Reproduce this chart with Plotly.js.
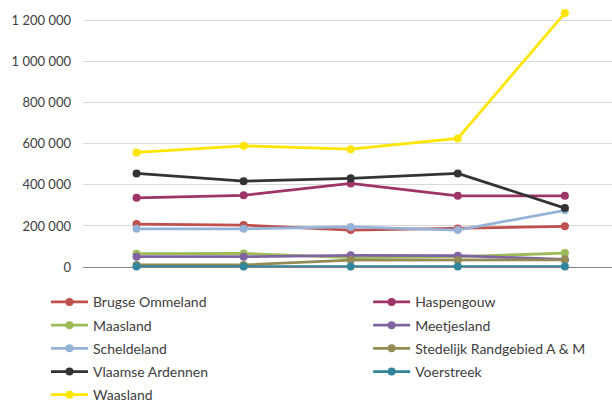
<!DOCTYPE html>
<html>
<head>
<meta charset="utf-8">
<script src="https://cdn.plot.ly/plotly-3.0.1.min.js"></script>
<style>html,body{margin:0;padding:0;background:#fff}#chart{width:612px;height:401px}</style>
</head>
<body>
<div id="chart"></div>
<script>
const periods = [1, 2, 3, 4, 5];
const seriesNames = ["Brugse Ommeland", "Haspengouw", "Maasland", "Meetjesland", "Scheldeland",
  "Stedelijk Randgebied A & M", "Vlaamse Ardennen", "Voerstreek", "Waasland"];
const brugseOmmeland = [209000, 204000, 180000, 188000, 198000];
const haspengouw = [337000, 349000, 407000, 347000, 347000];
const maasland = [65000, 66000, 46000, 50000, 68000];
const meetjesland = [50000, 50000, 57000, 55000, 37000];
const scheldeland = [186000, 186000, 195000, 180000, 276000];
const stedelijkRandgebied = [10000, 10000, 34000, 33000, 35000];
const vlaamseArdennen = [456000, 418000, 432000, 456000, 287000];
const voerstreek = [2000, 2000, 2000, 2000, 2000];
const waasland = [558000, 590000, 574000, 626000, 1237000];
const seriesValues = [brugseOmmeland, haspengouw, maasland, meetjesland, scheldeland,
  stedelijkRandgebied, vlaamseArdennen, voerstreek, waasland];
const colors = ["#C0504D", "#9E3468", "#9BBB59", "#8064A2", "#95B3D7",
  "#948A54", "#333333", "#31859C", "#FFE600"];

const FONT = "Lato, 'Liberation Sans', sans-serif";
const traces = seriesNames.map((name, i) => ({
  type: "scatter",
  mode: "lines+markers",
  name: name,
  x: periods,
  y: seriesValues[i],
  line: {color: colors[i], width: 2.75},
  marker: {color: colors[i], size: 8},
  cliponaxis: false,
  legend: (i % 2 === 0) ? "legend" : "legend2",
  legendgroup: "g" + i,
  hoverinfo: "name+y"
}));

const legendCommon = {
  orientation: "v",
  font: {family: FONT, size: 14, color: "#404040"},
  bgcolor: "rgba(0,0,0,0)",
  borderwidth: 0,
  tracegroupgap: 2,
  itemwidth: 37,
  yanchor: "top",
  xanchor: "left",
  y: -0.0735
};

const layout = {
  width: 612,
  height: 401,
  margin: {l: 83, r: 0, t: 4, b: 134, autoexpand: false},
  paper_bgcolor: "#ffffff",
  plot_bgcolor: "#ffffff",
  separators: ", ",
  showlegend: true,
  font: {family: FONT, color: "#404040"},
  xaxis: {
    range: [0.5, 5.44],
    showgrid: false,
    zeroline: false,
    showline: false,
    showticklabels: false,
    ticks: "",
    fixedrange: true
  },
  yaxis: {
    range: [0, 1281000],
    tickvals: [0, 200000, 400000, 600000, 800000, 1000000, 1200000],
    tickformat: ",d",
    showgrid: true,
    gridcolor: "#D9D9D9",
    gridwidth: 1,
    zeroline: true,
    zerolinecolor: "#868686",
    zerolinewidth: 1,
    showline: false,
    ticks: "",
    ticklabelstandoff: 11,
    tickfont: {family: FONT, size: 13, color: "#404040"},
    fixedrange: true
  },
  legend: Object.assign({}, legendCommon, {x: -0.07}),
  legend2: Object.assign({}, legendCommon, {x: 0.539})
};

Plotly.newPlot("chart", traces, layout, {displayModeBar: false, staticPlot: true});
</script>
</body>
</html>
